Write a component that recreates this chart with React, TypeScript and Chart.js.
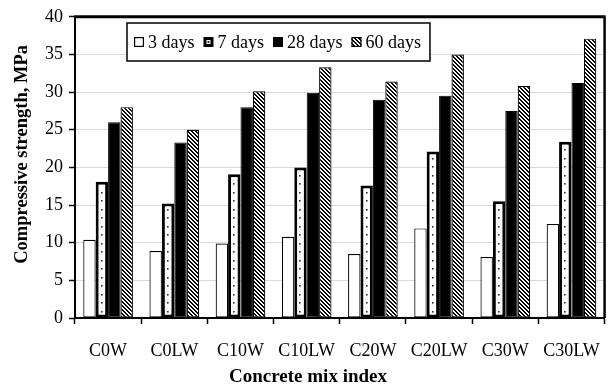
import { useEffect, useRef } from 'react';
import { Chart, registerables } from 'chart.js';

Chart.register(...registerables);

// Concrete mixes on the category axis
const categories = ['C0W', 'C0LW', 'C10W', 'C10LW', 'C20W', 'C20LW', 'C30W', 'C30LW'];

// Compressive strength (MPa) by curing age
const days3 = [10.4, 8.9, 9.9, 10.8, 8.5, 11.9, 8.1, 12.5];
const days7 = [18.1, 15.2, 19.1, 20.0, 17.6, 22.1, 15.5, 23.4];
const days28 = [26.0, 23.3, 28.0, 29.9, 29.0, 29.5, 27.5, 31.2];
const days60 = [28.0, 25.0, 30.1, 33.3, 31.4, 35.0, 30.8, 37.1];

const seriesLabels = ['3 days', '7 days', '28 days', '60 days'];

// Value axis range
const yMin = 0;
const yMax = 40;
const yStep = 5;

const xTitle = 'Concrete mix index';
const yTitle = 'Compressive strength, MPa';

const SERIF = '"Liberation Serif", "Times New Roman", Times, serif';

function makeHatch(): CanvasPattern | string {
  const n = 4;
  const c = document.createElement('canvas');
  c.width = n;
  c.height = n;
  const g = c.getContext('2d');
  if (!g) return '#777';
  g.fillStyle = '#ffffff';
  g.fillRect(0, 0, n, n);
  g.fillStyle = '#000000';
  for (let i = 0; i < n; i++) {
    g.fillRect(i, i, 1, 1);
    g.fillRect((i + 1) % n, i, 1, 1);
  }
  return g.createPattern(c, 'repeat') || '#777';
}

// Dotted fill for the 7-day bars: one column of dots down each bar's centre
const dotsPlugin = {
  id: 'dotFill',
  afterDatasetsDraw(chart: any) {
    const meta = chart.getDatasetMeta(1);
    if (!meta || meta.hidden) return;
    const ctx = chart.ctx;
    ctx.save();
    ctx.fillStyle = '#333';
    for (const el of meta.data) {
      const p = el.getProps(['x', 'y', 'base'], true);
      for (let yy = p.base - 6; yy > p.y + 5; yy -= 8.5) {
        ctx.fillRect(Math.round(p.x) - 1, Math.round(yy) - 1, 1.6, 1.6);
      }
    }
    ctx.restore();
  },
};

// Heavy frame round the plot area, plus the two axis titles
const framePlugin = {
  id: 'plotFrame',
  afterDraw(chart: any) {
    const { left, right, top, bottom } = chart.chartArea;
    const ctx = chart.ctx;
    ctx.save();
    ctx.strokeStyle = '#000';
    ctx.lineWidth = 3;
    ctx.beginPath();
    ctx.moveTo(left - 1, top);
    ctx.lineTo(right + 1, top);
    ctx.stroke();
    ctx.lineWidth = 2.5;
    ctx.beginPath();
    ctx.moveTo(right, top);
    ctx.lineTo(right, bottom);
    ctx.stroke();
    ctx.lineWidth = 2;
    ctx.beginPath();
    ctx.moveTo(left, top);
    ctx.lineTo(left, bottom);
    ctx.moveTo(left, bottom);
    ctx.lineTo(right, bottom);
    ctx.stroke();

    ctx.fillStyle = '#000';
    ctx.textAlign = 'center';
    ctx.font = `bold 19px ${SERIF}`;
    ctx.textBaseline = 'alphabetic';
    ctx.fillText(xTitle, chart.width / 2, 382);

    ctx.font = `bold 18.5px ${SERIF}`;
    ctx.textBaseline = 'middle';
    ctx.translate(22, (top + bottom) / 2 - 13);
    ctx.rotate(-Math.PI / 2);
    ctx.fillText(yTitle, 0, 0);
    ctx.restore();
  },
};

// Boxed legend placed inside the plot area
const legendPlugin = {
  id: 'insetLegend',
  afterDraw(chart: any) {
    const ctx = chart.ctx;
    const boxLeft = 127;
    const boxTop = 23;
    const boxH = 38;
    const sw = 10;
    const cy = boxTop + boxH / 2;
    ctx.save();
    ctx.font = `18px ${SERIF}`;
    const datasets = chart.data.datasets;
    let x = boxLeft + 7;
    const items: { x: number; tx: number; i: number }[] = [];
    datasets.forEach((ds: any, i: number) => {
      items.push({ x, tx: x + sw + 4, i });
      x += sw + 4 + ctx.measureText(ds.label).width + 9;
    });
    const boxRight = x;
    ctx.fillStyle = '#fff';
    ctx.fillRect(boxLeft, boxTop, boxRight - boxLeft, boxH);
    ctx.strokeStyle = '#000';
    ctx.lineWidth = 1.5;
    ctx.strokeRect(boxLeft, boxTop, boxRight - boxLeft, boxH);

    for (const it of items) {
      const ds = datasets[it.i];
      const sy = cy - sw / 2;
      ctx.fillStyle = ds.backgroundColor;
      ctx.fillRect(it.x, sy, sw, sw);
      const bw = Math.min(ds.borderWidth, 3);
      ctx.strokeStyle = '#000';
      ctx.lineWidth = bw;
      ctx.strokeRect(it.x + bw / 2, sy + bw / 2, sw - bw, sw - bw);
      if (it.i === 1) {
        ctx.fillStyle = '#333';
        ctx.fillRect(it.x + sw / 2 - 1, sy + sw / 2 - 1, 2, 2);
      }
      ctx.fillStyle = '#000';
      ctx.textBaseline = 'middle';
      ctx.textAlign = 'left';
      ctx.fillText(ds.label, it.tx, cy + 1);
    }
    ctx.restore();
  },
};

export default function App() {
  const canvasRef = useRef<HTMLCanvasElement | null>(null);

  useEffect(() => {
    const canvas = canvasRef.current;
    if (!canvas) return;
    const hatch = makeHatch();

    const chart = new Chart(canvas, {
      type: 'bar',
      data: {
        labels: categories,
        datasets: [
          {
            label: seriesLabels[0],
            data: days3,
            backgroundColor: '#ffffff',
            borderColor: '#000',
            borderWidth: 1.2,
            borderSkipped: false,
          },
          {
            label: seriesLabels[1],
            data: days7,
            backgroundColor: '#ffffff',
            borderColor: '#000',
            borderWidth: 3,
            borderSkipped: false,
          },
          {
            label: seriesLabels[2],
            data: days28,
            backgroundColor: '#000000',
            borderColor: '#000',
            borderWidth: 1,
            borderSkipped: false,
          },
          {
            label: seriesLabels[3],
            data: days60,
            backgroundColor: hatch as any,
            borderColor: '#000',
            borderWidth: 1.2,
            borderSkipped: false,
          },
        ],
      },
      options: {
        responsive: false,
        animation: false,
        events: [],
        datasets: {
          bar: { barPercentage: 1, categoryPercentage: 0.75 },
        },
        layout: { padding: { left: 0, right: 3, top: 15, bottom: 0 } },
        plugins: {
          legend: { display: false },
          tooltip: { enabled: false },
        },
        scales: {
          x: {
            offset: true,
            grid: {
              offset: true,
              drawOnChartArea: false,
              drawTicks: true,
              tickLength: 6,
              tickColor: '#000',
              tickWidth: 1.5,
            },
            border: { display: true, color: '#000', width: 2 },
            ticks: {
              color: '#000',
              font: { family: SERIF, size: 18 },
              padding: 16,
              maxRotation: 0,
              autoSkip: false,
            },
            afterFit(scale: any) {
              scale.height = 69;
            },
          },
          y: {
            min: yMin,
            max: yMax,
            grid: {
              color: '#d9d9d9',
              lineWidth: 1,
              drawTicks: true,
              tickLength: 6,
              tickColor: '#000',
              tickWidth: 1.5,
            },
            border: { display: true, color: '#000', width: 2 },
            ticks: {
              stepSize: yStep,
              color: '#000',
              font: { family: SERIF, size: 18 },
              padding: 6,
            },
            afterFit(scale: any) {
              scale.width = 75;
            },
          },
        },
      },
      plugins: [dotsPlugin, framePlugin, legendPlugin],
    });

    return () => {
      chart.destroy();
    };
  }, []);

  return (
    <div style={{ position: 'fixed', left: 0, top: 0, width: 616, height: 387, background: '#fff' }}>
      <canvas ref={canvasRef} width={616} height={387} style={{ display: 'block' }} />
    </div>
  );
}
